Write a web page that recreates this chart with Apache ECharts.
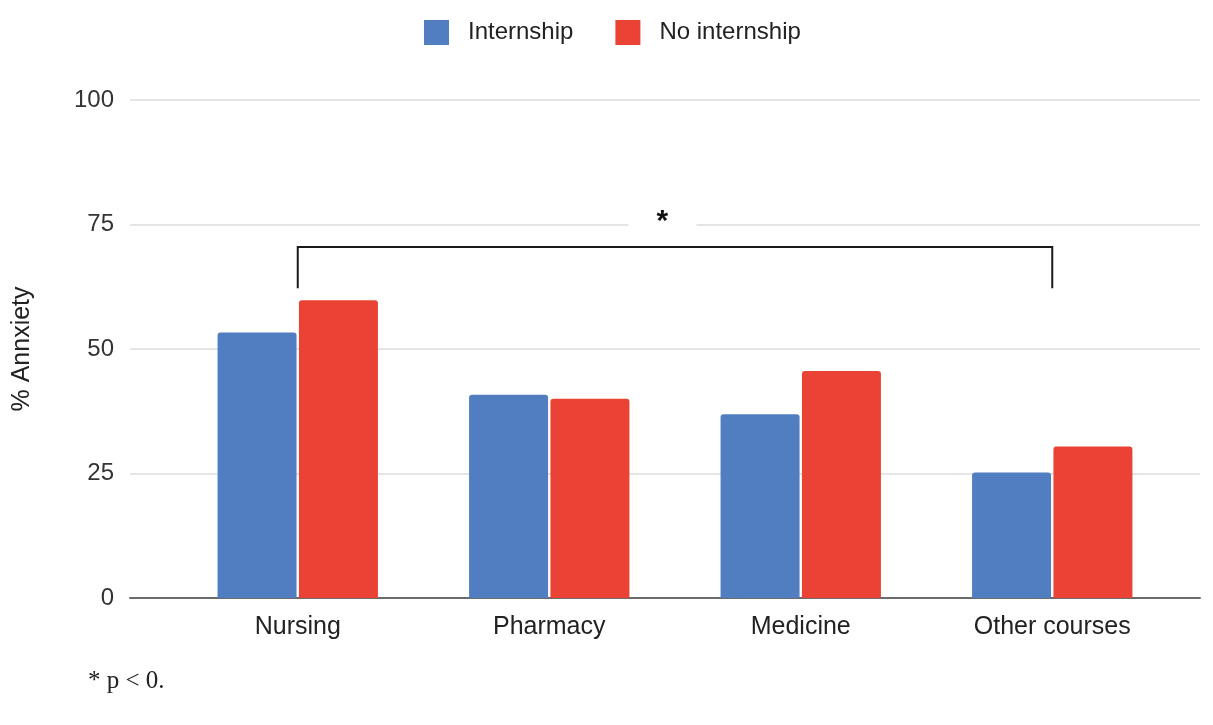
<!DOCTYPE html>
<html>
<head>
<meta charset="utf-8">
<script src="https://cdn.jsdelivr.net/npm/echarts@6/dist/echarts.min.js"></script>
<style>
html,body{margin:0;padding:0;background:#fff;}
#chart{width:1213px;height:725px;}
</style>
</head>
<body>
<div id="chart"></div>
<script>
const categories = ['Nursing', 'Pharmacy', 'Medicine', 'Other courses'];
const seriesNames = ['Internship', 'No internship'];
const internship = [53.3, 40.8, 36.9, 25.2];
const noInternship = [59.8, 40.0, 45.6, 30.4];
const yTicks = [0, 25, 50, 75, 100];
const bracketFrom = 'Nursing';
const bracketTo = 'Other courses';
const bracketTop = 70.5;
const bracketLegBottom = 62.2;
const starLevel = 76.0;
const starText = '*';
const footnote = '* p < 0.';
const yName = '% Annxiety';

const chart = echarts.init(document.getElementById('chart'), null, {renderer: 'canvas'});
const font = 'Arial, "Liberation Sans", sans-serif';

const option = {
  animation: false,
  backgroundColor: '#ffffff',
  legend: {
    data: seriesNames,
    left: 419,
    top: 15,
    icon: 'rect',
    itemWidth: 25,
    itemHeight: 25,
    itemGap: 42,
    textStyle: {fontFamily: font, fontSize: 24, color: '#222', padding: [0, 0, 0, 14]}
  },
  grid: [
    {left: 130, right: 13, top: 100, bottom: 127},
    {left: 172, right: 35, top: 100, bottom: 127}
  ],
  xAxis: [
    {
      gridIndex: 0, type: 'category', data: [''],
      axisLine: {show: true, lineStyle: {color: '#6b6b6b', width: 2}},
      axisTick: {show: false}, axisLabel: {show: false}, splitLine: {show: false}
    },
    {
      gridIndex: 1, type: 'category', data: categories,
      axisLine: {show: false}, axisTick: {show: false},
      axisLabel: {fontFamily: font, fontSize: 25, color: '#222', margin: 17}
    }
  ],
  yAxis: [
    {
      gridIndex: 0, type: 'value', min: yTicks[0], max: yTicks[yTicks.length - 1], interval: 25,
      axisLine: {show: false}, axisTick: {show: false},
      axisLabel: {fontFamily: font, fontSize: 24, color: '#333', margin: 16},
      splitLine: {lineStyle: {color: '#dcdcdc', width: 1.5}},
      name: yName, nameLocation: 'middle', nameGap: 95, nameRotate: 90,
      nameTextStyle: {fontFamily: font, fontSize: 25, color: '#222'}
    },
    {
      gridIndex: 1, type: 'value', min: yTicks[0], max: yTicks[yTicks.length - 1], interval: 25,
      show: false, splitLine: {show: false}
    }
  ],
  series: [
    {
      name: seriesNames[0], type: 'bar', xAxisIndex: 1, yAxisIndex: 1,
      data: internship, barWidth: 79, barGap: '3%',
      itemStyle: {color: '#517dc1', borderRadius: [3, 3, 0, 0]}
    },
    {
      name: seriesNames[1], type: 'bar', xAxisIndex: 1, yAxisIndex: 1,
      data: noInternship, barWidth: 79,
      itemStyle: {color: '#ea4335', borderRadius: [3, 3, 0, 0]}
    }
  ]
};
chart.setOption(option);

const pL = chart.convertToPixel({gridIndex: 1}, [bracketFrom, bracketLegBottom]);
const pLT = chart.convertToPixel({gridIndex: 1}, [bracketFrom, bracketTop]);
const pRT = chart.convertToPixel({gridIndex: 1}, [bracketTo, bracketTop]);
const pR = chart.convertToPixel({gridIndex: 1}, [bracketTo, bracketLegBottom]);
const pA = chart.convertToPixel({gridIndex: 1}, ['Pharmacy', starLevel]);
const pB = chart.convertToPixel({gridIndex: 1}, ['Medicine', starLevel]);
const starX = pA[0] + (pB[0] - pA[0]) * 0.45;
const starY = pA[1];

chart.setOption({
  graphic: [
    {
      type: 'rect', z: 50,
      shape: {x: starX - 34, y: starY - 17, width: 68, height: 36},
      style: {fill: '#ffffff'}
    },
    {
      type: 'text', z: 51, x: starX, y: starY + 2,
      style: {text: starText, fontFamily: font, fontSize: 30, fontWeight: 'bold', fill: '#111', align: 'center', verticalAlign: 'middle'}
    },
    {
      type: 'polyline', z: 52,
      shape: {points: [pL, pLT, pRT, pR]},
      style: {stroke: '#1a1a1a', lineWidth: 2, fill: null}
    },
    {
      type: 'text', z: 52, left: 88, top: 669,
      style: {text: footnote, fontFamily: '"Liberation Serif", "Times New Roman", serif', fontSize: 25, fill: '#222'}
    }
  ]
});
</script>
</body>
</html>
